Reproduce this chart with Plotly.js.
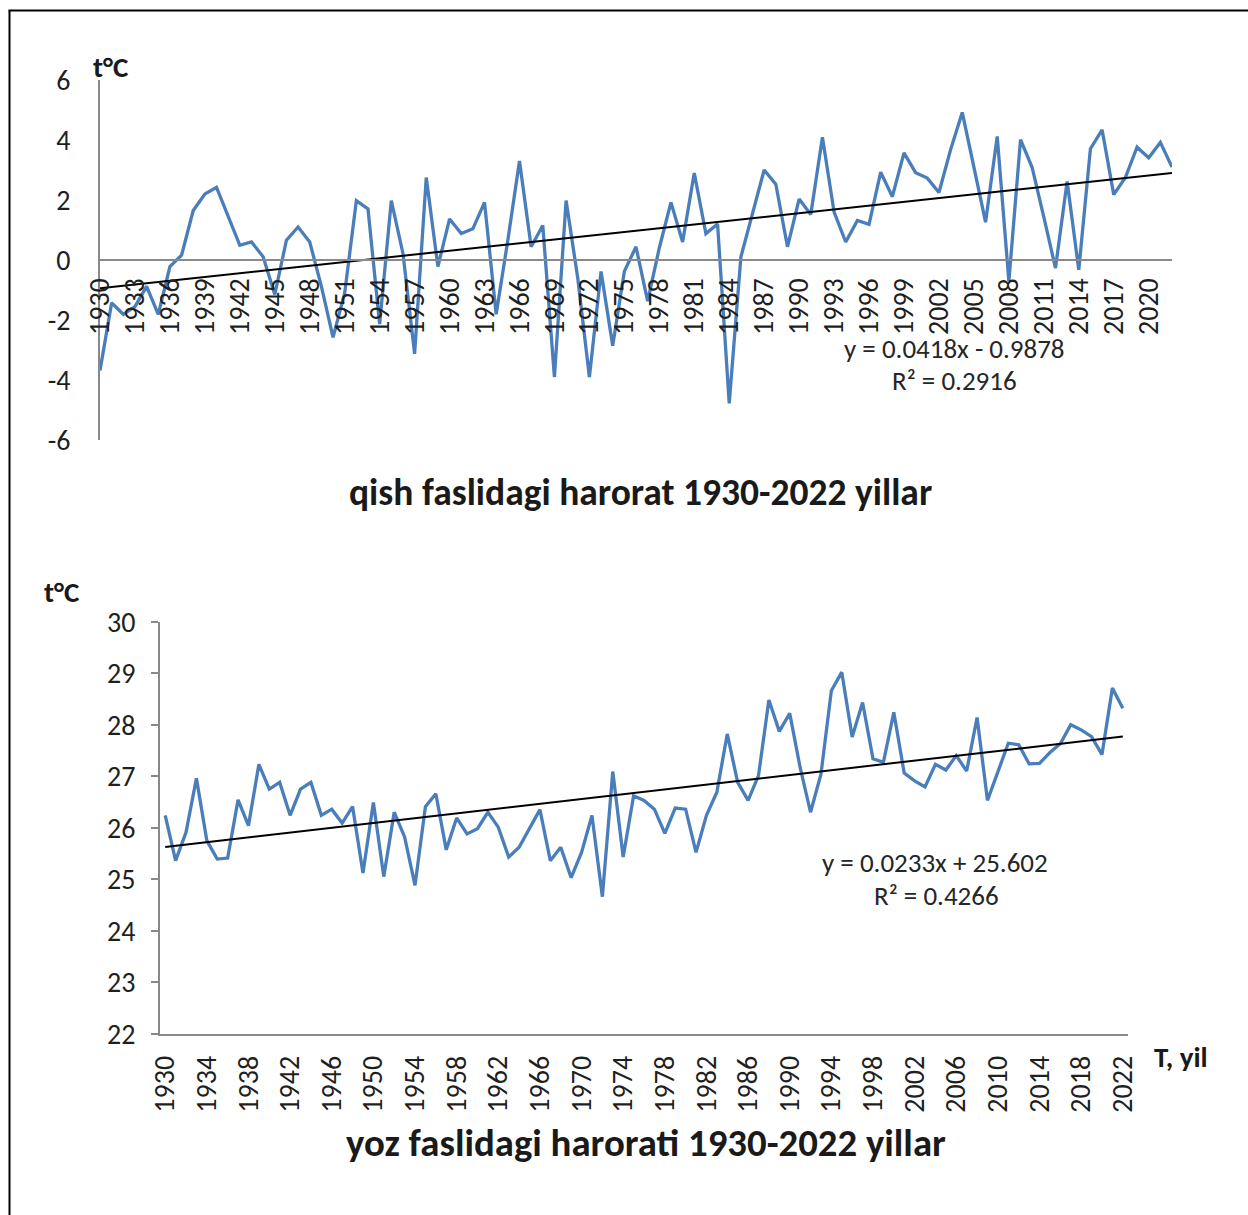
<!DOCTYPE html>
<html>
<head>
<meta charset="utf-8">
<script src="https://cdn.plot.ly/plotly-3.0.1.min.js"></script>
<style>
  html, body { margin: 0; padding: 0; background: #ffffff; }
  #chart { width: 1248px; height: 1215px; }
</style>
</head>
<body>
<div id="chart"></div>
<script>
// ---------- DATA ----------
const startYear = 1930;
const endYear = 2022;

// Winter temperature (qish), °C, 1930..2022
const winterTemp = [
  -3.68, -1.43, -1.81, -1.55, -0.88, -1.81, -0.22, 0.16, 1.65, 2.20,
   2.42,  1.48,  0.49,  0.60,  0.11, -1.15,  0.66, 1.10, 0.60, -0.88,
  -2.58, -1.10,  1.98,  1.70, -2.14,  1.98,  0.22, -3.13, 2.75, -0.22,
   1.37,  0.88,  1.04,  1.92, -1.81,  0.66,  3.30, 0.44, 1.15, -3.90,
   1.98, -0.60, -3.90, -0.38, -2.86, -0.38,  0.44, -1.37, 0.40, 1.92,
   0.60,  2.90,  0.88,  1.20, -4.78,  0.10,  1.60, 3.00, 2.53, 0.44,
   2.03,  1.52,  4.09,  1.60,  0.60,  1.32,  1.19, 2.93, 2.11, 3.57,
   2.91,  2.73,  2.25,  3.68,  4.92,  3.08,  1.26, 4.12, -0.71, 4.01,
   3.08,  1.43, -0.27,  2.62, -0.33,  3.71,  4.34, 2.18, 2.75, 3.76,
   3.41,  3.92,  3.10
];

// Summer temperature (yoz), °C, 1930..2022
const summerTemp = [
  26.24, 25.36, 25.91, 26.96, 25.75, 25.39, 25.41, 26.54, 26.04, 27.23,
  26.75, 26.88, 26.24, 26.75, 26.88, 26.24, 26.36, 26.09, 26.41, 25.12,
  26.49, 25.05, 26.30, 25.82, 24.88, 26.41, 26.66, 25.57, 26.19, 25.88,
  25.98, 26.30, 26.01, 25.43, 25.62, 25.98, 26.35, 25.36, 25.62, 25.03,
  25.52, 26.24, 24.66, 27.09, 25.43, 26.62, 26.53, 26.36, 25.89, 26.38,
  26.36, 25.52, 26.24, 26.69, 27.82, 26.88, 26.53, 27.01, 28.48, 27.87,
  28.22, 27.17, 26.30, 27.04, 28.66, 29.02, 27.76, 28.43, 27.34, 27.27,
  28.24, 27.06, 26.91, 26.79, 27.23, 27.12, 27.40, 27.10, 28.14, 26.53,
  27.08, 27.64, 27.61, 27.24, 27.25, 27.46, 27.63, 28.00, 27.90, 27.77,
  27.42, 28.71, 28.32
];

// Y tick values and their labels (hyphen minus as in the original)
const winterTickVals = [-6, -4, -2, 0, 2, 4, 6];
const winterTickText = ["-6", "-4", "-2", "0", "2", "4", "6"];
const summerTickVals = [22, 23, 24, 25, 26, 27, 28, 29, 30];

// Trend line equations shown on the chart (x = 1, 2, 3 ... for each year)
const winterSlope = 0.0418, winterIntercept = -0.9878, winterR2 = 0.2916;
const summerSlope = 0.0233, summerIntercept = 25.602, summerR2 = 0.4266;

// Texts
const winterTitle = "qish faslidagi harorat 1930-2022 yillar";
const summerTitle = "yoz faslidagi harorati 1930-2022 yillar";
const unitLabel = "t°C";
const yearAxisLabel = "T, yil";

// ---------- BUILD ----------
const years = [];
for (let y = startYear; y <= endYear; y++) years.push(y);

const winterTrend = years.map((_, i) => winterSlope * (i + 1) + winterIntercept);
const summerTrend = years.map((_, i) => summerSlope * (i + 1) + summerIntercept);

const W = 1248, H = 1215;
const px = v => v / W;
const py = v => 1 - v / H;

const blue = "#4a7ebb";
const grey = "#898989";
const FONT = "Carlito, Lato, 'Liberation Sans', sans-serif";

const traces = [
  { x: years, y: winterTemp, type: "scatter", mode: "lines",
    line: { color: blue, width: 3.3 }, xaxis: "x", yaxis: "y", hoverinfo: "x+y" },
  { x: years, y: winterTrend, type: "scatter", mode: "lines",
    line: { color: "#000000", width: 2 }, xaxis: "x", yaxis: "y", hoverinfo: "skip" },
  { x: years, y: summerTemp, type: "scatter", mode: "lines",
    line: { color: blue, width: 3.3 }, xaxis: "x2", yaxis: "y2", hoverinfo: "x+y" },
  { x: years, y: summerTrend, type: "scatter", mode: "lines",
    line: { color: "#000000", width: 2 }, xaxis: "x2", yaxis: "y2", hoverinfo: "skip" }
];

const tickFont = { family: FONT, size: 28, color: "#1f1f1f" };

const layout = {
  width: W, height: H,
  margin: { l: 0, r: 0, t: 0, b: 0, pad: 0 },
  paper_bgcolor: "#ffffff",
  plot_bgcolor: "rgba(0,0,0,0)",
  showlegend: false,
  font: { family: FONT, size: 28, color: "#1f1f1f" },
  xaxis: {
    domain: [px(100), px(1172)],
    anchor: "free", position: py(260),
    range: [startYear, endYear],
    tickmode: "linear", tick0: startYear, dtick: 3,
    tickangle: -90, tickfont: tickFont, ticks: "",
    ticklabelstandoff: 6,
    showline: true, linecolor: grey, linewidth: 2,
    showgrid: false, zeroline: false, fixedrange: true
  },
  yaxis: {
    domain: [py(440), py(80)],
    anchor: "x",
    range: [-6, 6], tickmode: "array", tickvals: winterTickVals, ticktext: winterTickText,
    tickfont: tickFont, ticks: "",
    ticklabelstandoff: 22,
    showline: true, linecolor: grey, linewidth: 2,
    showgrid: false, zeroline: false, fixedrange: true
  },
  xaxis2: {
    domain: [px(160), px(1128)],
    anchor: "y2",
    range: [startYear - 0.5, endYear + 0.5],
    tickmode: "linear", tick0: startYear, dtick: 4,
    tickangle: -90, tickfont: tickFont, ticks: "",
    ticklabelstandoff: 9,
    showline: true, linecolor: grey, linewidth: 2,
    showgrid: false, zeroline: false, fixedrange: true
  },
  yaxis2: {
    domain: [py(1033.7), py(621.7)],
    anchor: "x2",
    range: [22, 30], tickmode: "array", tickvals: summerTickVals,
    tickfont: tickFont, ticks: "outside", ticklen: 7, tickwidth: 2, tickcolor: grey,
    ticklabelstandoff: 10,
    showline: true, linecolor: grey, linewidth: 2,
    showgrid: false, zeroline: false, fixedrange: true
  },
  shapes: [
    { type: "line", xref: "paper", yref: "paper",
      x0: px(9.5), x1: px(9.5), y0: py(10.5), y1: py(1215),
      line: { color: "#000000", width: 2 } },
    { type: "line", xref: "paper", yref: "paper",
      x0: px(8.5), x1: px(1248), y0: py(10.5), y1: py(10.5),
      line: { color: "#000000", width: 2 } }
  ],
  annotations: [
    { text: "<b>" + unitLabel + "</b>", xref: "paper", yref: "paper",
      x: px(111), y: py(67), xanchor: "center", yanchor: "middle", showarrow: false,
      font: { family: FONT, size: 29, color: "#1a1a1a" } },
    { text: "<b>" + unitLabel + "</b>", xref: "paper", yref: "paper",
      x: px(62), y: py(592), xanchor: "center", yanchor: "middle", showarrow: false,
      font: { family: FONT, size: 29, color: "#1a1a1a" } },
    { text: "<b>" + winterTitle + "</b>", xref: "paper", yref: "paper",
      x: px(641), y: py(492), xanchor: "center", yanchor: "middle", showarrow: false,
      font: { family: FONT, size: 37.5, color: "#1a1a1a" } },
    { text: "<b>" + summerTitle + "</b>", xref: "paper", yref: "paper",
      x: px(646), y: py(1142), xanchor: "center", yanchor: "middle", showarrow: false,
      font: { family: FONT, size: 38.8, color: "#1a1a1a" } },
    { text: "y = " + winterSlope.toFixed(4) + "x - " + Math.abs(winterIntercept).toFixed(4),
      xref: "paper", yref: "paper",
      x: px(955), y: py(349), xanchor: "center", yanchor: "middle", showarrow: false,
      font: { family: FONT, size: 27, color: "#262626" } },
    { text: "R² = " + winterR2.toFixed(4), xref: "paper", yref: "paper",
      x: px(955), y: py(381), xanchor: "center", yanchor: "middle", showarrow: false,
      font: { family: FONT, size: 27, color: "#262626" } },
    { text: "y = " + summerSlope.toFixed(4) + "x + " + summerIntercept.toFixed(3),
      xref: "paper", yref: "paper",
      x: px(935), y: py(862), xanchor: "center", yanchor: "middle", showarrow: false,
      font: { family: FONT, size: 27, color: "#262626" } },
    { text: "R² = " + summerR2.toFixed(4), xref: "paper", yref: "paper",
      x: px(936), y: py(895), xanchor: "center", yanchor: "middle", showarrow: false,
      font: { family: FONT, size: 27, color: "#262626" } },
    { text: "<b>" + yearAxisLabel + "</b>", xref: "paper", yref: "paper",
      x: px(1181), y: py(1057), xanchor: "center", yanchor: "middle", showarrow: false,
      font: { family: FONT, size: 29, color: "#1a1a1a" } }
  ]
};

Plotly.newPlot("chart", traces, layout, { staticPlot: true, displayModeBar: false });
</script>
</body>
</html>
